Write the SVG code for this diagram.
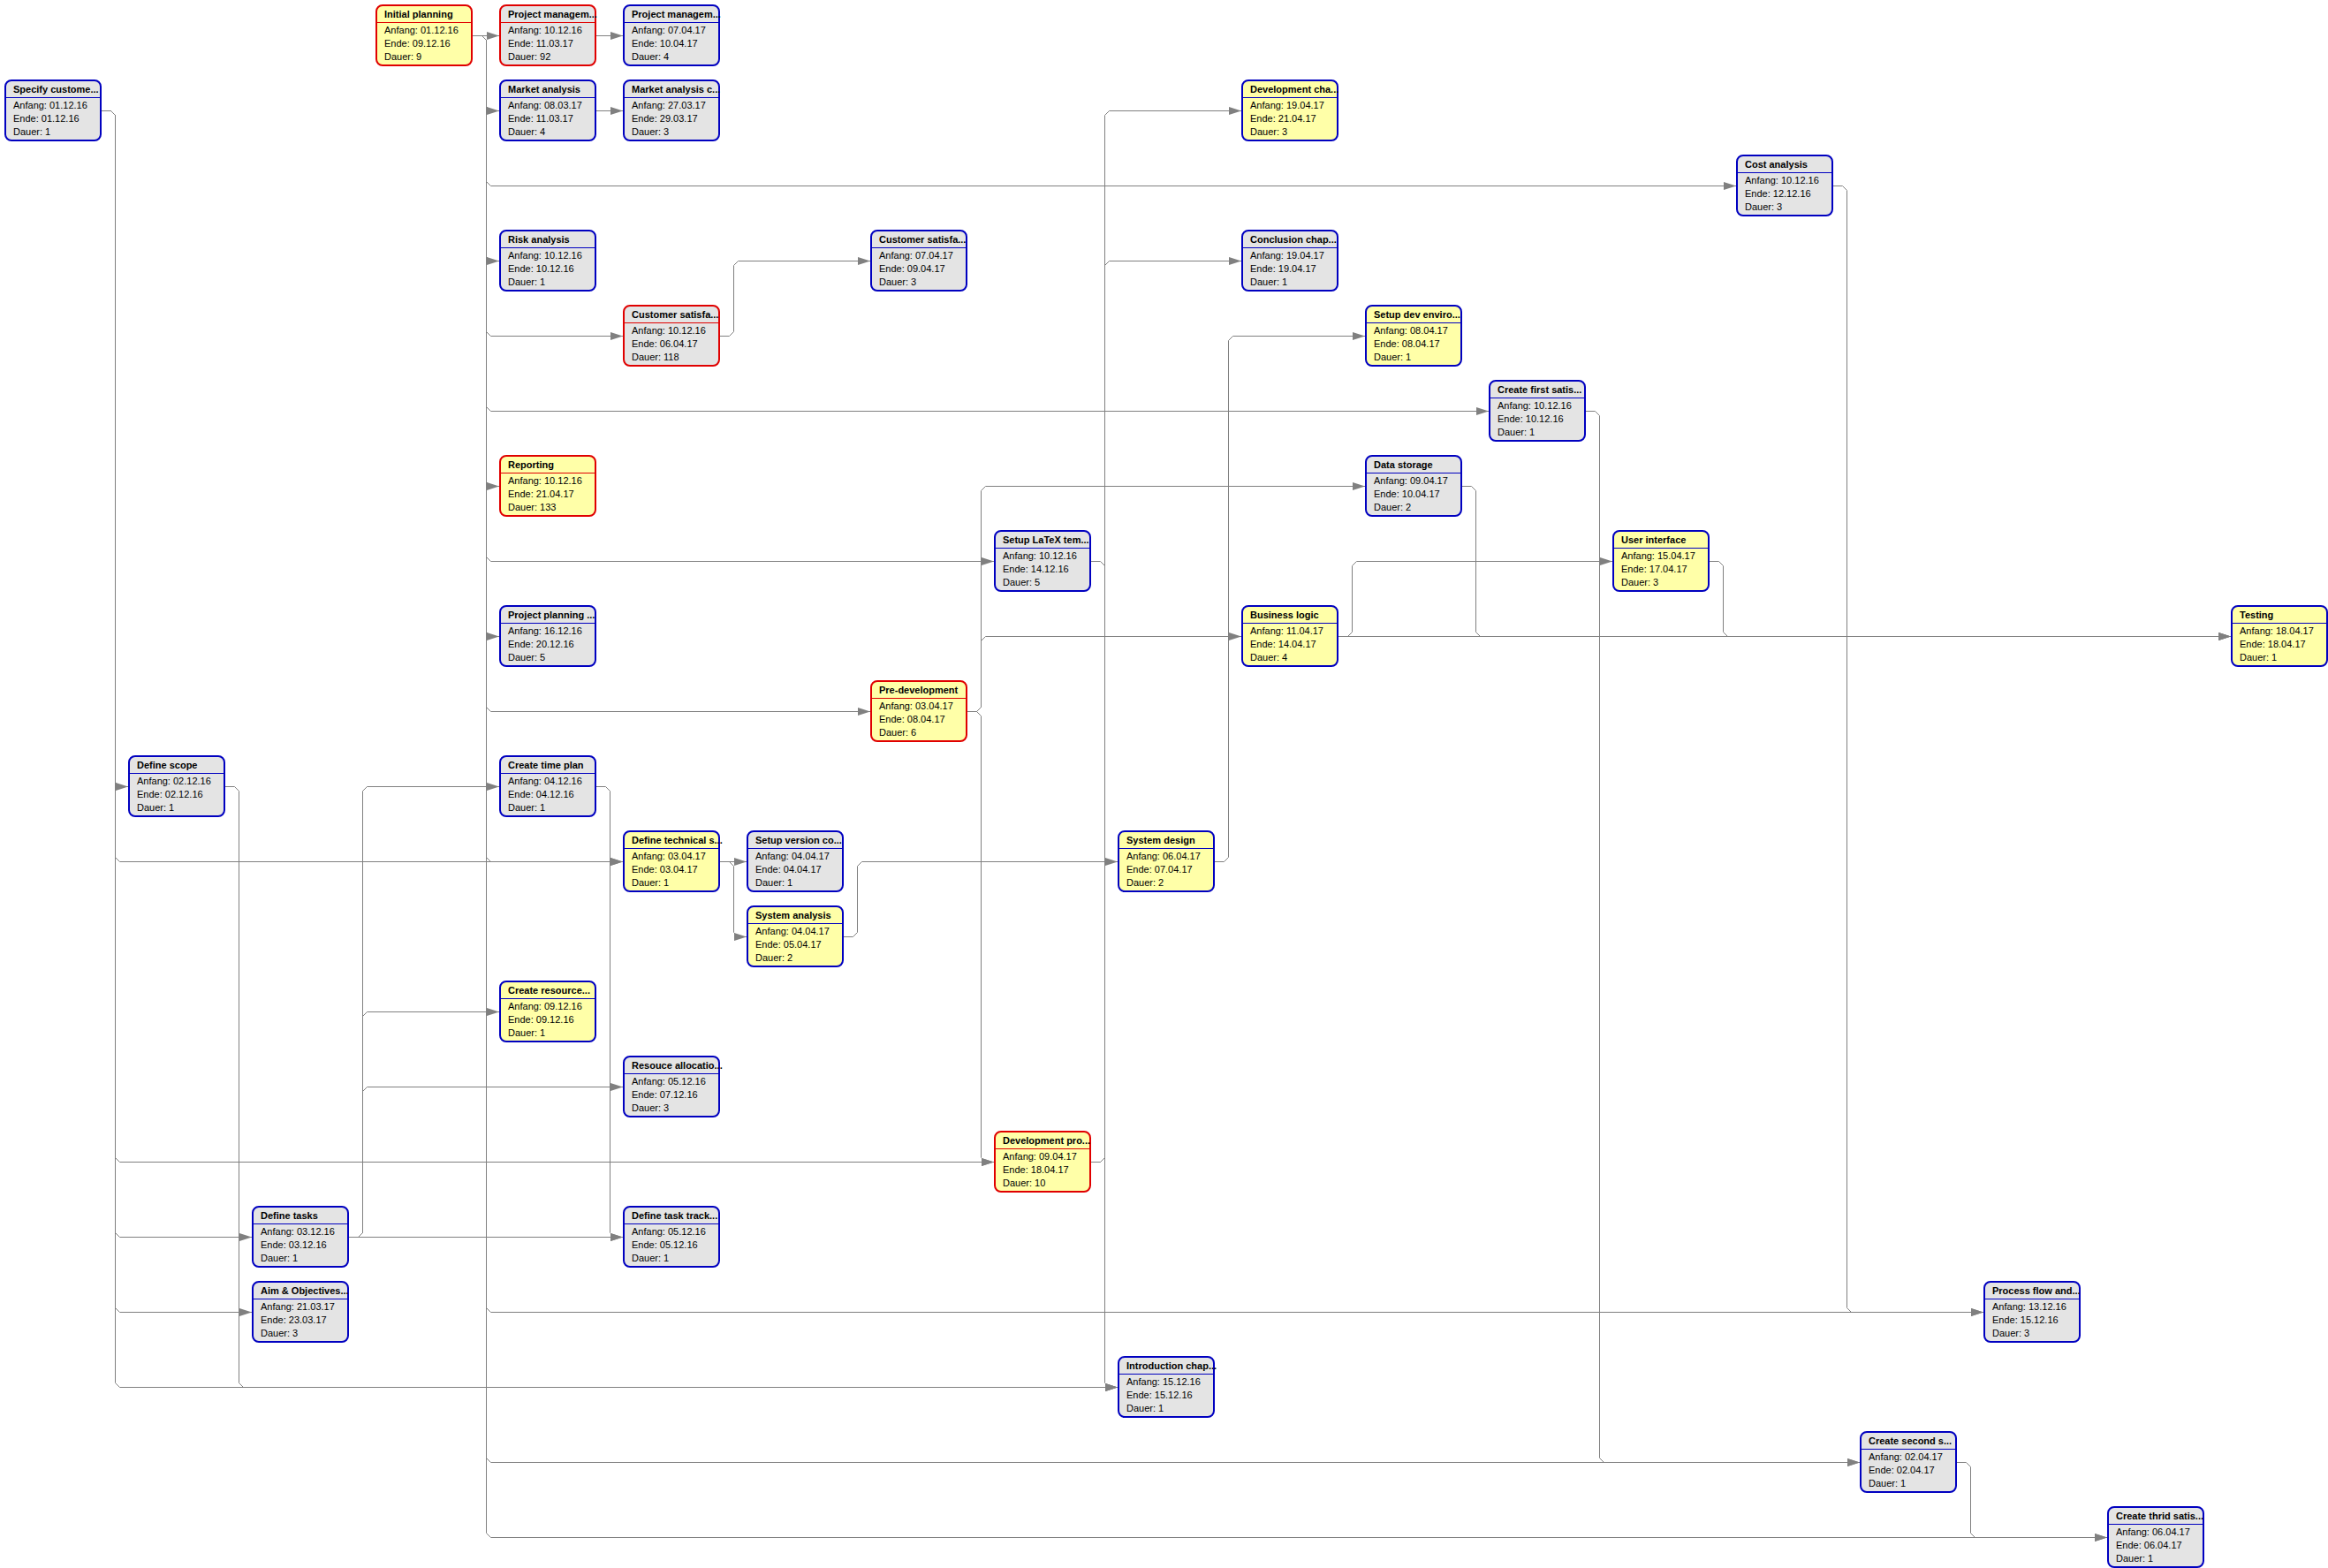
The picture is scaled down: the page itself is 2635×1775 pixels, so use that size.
<svg xmlns="http://www.w3.org/2000/svg" width="2635" height="1775" viewBox="0 0 2635 1775">
<style>
.bg{fill:#ffffff}
.conn path{fill:none;stroke:#808080;stroke-width:1;marker-end:url(#arr)}
.node rect{stroke-width:2}
.node line{stroke-width:1}
.blue rect,.blue line{stroke:#0000c0}
.red rect,.red line{stroke:#e00000}
.grey rect{fill:#e4e4e4}
.yel rect{fill:#ffffa8}
.node text{font-family:"Liberation Sans",Arial,sans-serif;font-size:11px;fill:#000000}
.node text.t{font-weight:bold}
</style>
<defs>
<marker id="arr" markerUnits="userSpaceOnUse" markerWidth="14" markerHeight="10" refX="14" refY="5" orient="auto">
<path d="M0,0.5 L14,5 L0,9.5 z" fill="#808080"/>
</marker>
</defs>
<rect class="bg" x="0" y="0" width="2635" height="1775"/>
<g id="connectors" class="conn">
<!-- Initial planning -->
<path d="M535,40.5 H565"/>
<path d="M535,40.5 H545.5 L550.5,45.5 V120.5 L555.5,125.5 H565"/>
<path d="M535,40.5 H545.5 L550.5,45.5 V205.5 L555.5,210.5 H1965"/>
<path d="M535,40.5 H545.5 L550.5,45.5 V290.5 L555.5,295.5 H565"/>
<path d="M535,40.5 H545.5 L550.5,45.5 V375.5 L555.5,380.5 H705"/>
<path d="M535,40.5 H545.5 L550.5,45.5 V460.5 L555.5,465.5 H1685"/>
<path d="M535,40.5 H545.5 L550.5,45.5 V545.5 L555.5,550.5 H565"/>
<path d="M535,40.5 H545.5 L550.5,45.5 V630.5 L555.5,635.5 H1125"/>
<path d="M535,40.5 H545.5 L550.5,45.5 V715.5 L555.5,720.5 H565"/>
<path d="M535,40.5 H545.5 L550.5,45.5 V800.5 L555.5,805.5 H985"/>
<path d="M535,40.5 H545.5 L550.5,45.5 V970.5 L555.5,975.5 H705"/>
<path d="M535,40.5 H545.5 L550.5,45.5 V1480.5 L555.5,1485.5 H2245"/>
<path d="M535,40.5 H545.5 L550.5,45.5 V1650.5 L555.5,1655.5 H2105"/>
<path d="M535,40.5 H545.5 L550.5,45.5 V1735.5 L555.5,1740.5 H2385"/>
<!-- same-row -->
<path d="M675,40.5 H705"/>
<path d="M675,125.5 H705"/>
<!-- Specify customer -->
<path d="M115,125.5 H125.5 L130.5,130.5 V885.5 L135.5,890.5 H145"/>
<path d="M115,125.5 H125.5 L130.5,130.5 V970.5 L135.5,975.5 H705"/>
<path d="M115,125.5 H125.5 L130.5,130.5 V1310.5 L135.5,1315.5 H1125"/>
<path d="M115,125.5 H125.5 L130.5,130.5 V1395.5 L135.5,1400.5 H285"/>
<path d="M115,125.5 H125.5 L130.5,130.5 V1480.5 L135.5,1485.5 H285"/>
<path d="M115,125.5 H125.5 L130.5,130.5 V1565.5 L135.5,1570.5 H1265"/>
<!-- Define scope -->
<path d="M255,890.5 H265.5 L270.5,895.5 V1565.5 L275.5,1570.5 H1265"/>
<!-- Define tasks -->
<path d="M395,1400.5 H405.5 L410.5,1395.5 V895.5 L415.5,890.5 H565"/>
<path d="M395,1400.5 H405.5 L410.5,1395.5 V1150.5 L415.5,1145.5 H565"/>
<path d="M395,1400.5 H405.5 L410.5,1395.5 V1235.5 L415.5,1230.5 H705"/>
<path d="M395,1400.5 H705"/>
<!-- Create time plan -->
<path d="M675,890.5 H685.5 L690.5,895.5 V1395.5 L695.5,1400.5 H705"/>
<!-- Define technical s -->
<path d="M815,975.5 H845"/>
<path d="M815,975.5 H825.5 L830.5,980.5 V1055.5 L835.5,1060.5 H845"/>
<!-- Customer satisfa 2 -->
<path d="M815,380.5 H825.5 L830.5,375.5 V300.5 L835.5,295.5 H985"/>
<!-- System analysis -->
<path d="M955,1060.5 H965.5 L970.5,1055.5 V980.5 L975.5,975.5 H1265"/>
<!-- Pre-development -->
<path d="M1095,805.5 H1105.5 L1110.5,800.5 V555.5 L1115.5,550.5 H1545"/>
<path d="M1095,805.5 H1105.5 L1110.5,800.5 V725.5 L1115.5,720.5 H1405"/>
<path d="M1095,805.5 H1105.5 L1110.5,810.5 V1310.5 L1115.5,1315.5 H1125"/>
<!-- Setup LaTeX -->
<path d="M1235,635.5 H1245.5 L1250.5,640.5 V1565.5 L1255.5,1570.5 H1265"/>
<!-- Development pro -->
<path d="M1235,1315.5 H1245.5 L1250.5,1310.5 V130.5 L1255.5,125.5 H1405"/>
<path d="M1235,1315.5 H1245.5 L1250.5,1310.5 V300.5 L1255.5,295.5 H1405"/>
<!-- System design -->
<path d="M1375,975.5 H1385.5 L1390.5,970.5 V385.5 L1395.5,380.5 H1545"/>
<!-- Business logic -->
<path d="M1515,720.5 H1525.5 L1530.5,715.5 V640.5 L1535.5,635.5 H1825"/>
<path d="M1515,720.5 H2525"/>
<!-- Data storage -->
<path d="M1655,550.5 H1665.5 L1670.5,555.5 V715.5 L1675.5,720.5 H2525"/>
<!-- User interface -->
<path d="M1935,635.5 H1945.5 L1950.5,640.5 V715.5 L1955.5,720.5 H2525"/>
<!-- Create first satis -->
<path d="M1795,465.5 H1805.5 L1810.5,470.5 V1650.5 L1815.5,1655.5 H2105"/>
<!-- Create second s -->
<path d="M2215,1655.5 H2225.5 L2230.5,1660.5 V1735.5 L2235.5,1740.5 H2385"/>
<!-- Cost analysis -->
<path d="M2075,210.5 H2085.5 L2090.5,215.5 V1480.5 L2095.5,1485.5 H2245"/>
</g>

<g id="n-initial-planning" class="node red yel" transform="translate(425,5)"><rect x="1" y="1" width="108" height="68" rx="7"/><line x1="1" y1="20.5" x2="109" y2="20.5"/><text class="t" x="10" y="14.5">Initial planning</text><text x="10" y="33">Anfang: 01.12.16</text><text x="10" y="47.5">Ende: 09.12.16</text><text x="10" y="62.5">Dauer: 9</text></g>
<g id="n-project-management-1" class="node red grey" transform="translate(565,5)"><rect x="1" y="1" width="108" height="68" rx="7"/><line x1="1" y1="20.5" x2="109" y2="20.5"/><text class="t" x="10" y="14.5">Project managem...</text><text x="10" y="33">Anfang: 10.12.16</text><text x="10" y="47.5">Ende: 11.03.17</text><text x="10" y="62.5">Dauer: 92</text></g>
<g id="n-project-management-2" class="node blue grey" transform="translate(705,5)"><rect x="1" y="1" width="108" height="68" rx="7"/><line x1="1" y1="20.5" x2="109" y2="20.5"/><text class="t" x="10" y="14.5">Project managem...</text><text x="10" y="33">Anfang: 07.04.17</text><text x="10" y="47.5">Ende: 10.04.17</text><text x="10" y="62.5">Dauer: 4</text></g>
<g id="n-specify-customer" class="node blue grey" transform="translate(5,90)"><rect x="1" y="1" width="108" height="68" rx="7"/><line x1="1" y1="20.5" x2="109" y2="20.5"/><text class="t" x="10" y="14.5">Specify custome...</text><text x="10" y="33">Anfang: 01.12.16</text><text x="10" y="47.5">Ende: 01.12.16</text><text x="10" y="62.5">Dauer: 1</text></g>
<g id="n-market-analysis" class="node blue grey" transform="translate(565,90)"><rect x="1" y="1" width="108" height="68" rx="7"/><line x1="1" y1="20.5" x2="109" y2="20.5"/><text class="t" x="10" y="14.5">Market analysis</text><text x="10" y="33">Anfang: 08.03.17</text><text x="10" y="47.5">Ende: 11.03.17</text><text x="10" y="62.5">Dauer: 4</text></g>
<g id="n-market-analysis-c" class="node blue grey" transform="translate(705,90)"><rect x="1" y="1" width="108" height="68" rx="7"/><line x1="1" y1="20.5" x2="109" y2="20.5"/><text class="t" x="10" y="14.5">Market analysis c...</text><text x="10" y="33">Anfang: 27.03.17</text><text x="10" y="47.5">Ende: 29.03.17</text><text x="10" y="62.5">Dauer: 3</text></g>
<g id="n-development-cha" class="node blue yel" transform="translate(1405,90)"><rect x="1" y="1" width="108" height="68" rx="7"/><line x1="1" y1="20.5" x2="109" y2="20.5"/><text class="t" x="10" y="14.5">Development cha...</text><text x="10" y="33">Anfang: 19.04.17</text><text x="10" y="47.5">Ende: 21.04.17</text><text x="10" y="62.5">Dauer: 3</text></g>
<g id="n-cost-analysis" class="node blue grey" transform="translate(1965,175)"><rect x="1" y="1" width="108" height="68" rx="7"/><line x1="1" y1="20.5" x2="109" y2="20.5"/><text class="t" x="10" y="14.5">Cost analysis</text><text x="10" y="33">Anfang: 10.12.16</text><text x="10" y="47.5">Ende: 12.12.16</text><text x="10" y="62.5">Dauer: 3</text></g>
<g id="n-risk-analysis" class="node blue grey" transform="translate(565,260)"><rect x="1" y="1" width="108" height="68" rx="7"/><line x1="1" y1="20.5" x2="109" y2="20.5"/><text class="t" x="10" y="14.5">Risk analysis</text><text x="10" y="33">Anfang: 10.12.16</text><text x="10" y="47.5">Ende: 10.12.16</text><text x="10" y="62.5">Dauer: 1</text></g>
<g id="n-customer-satisfa-1" class="node blue grey" transform="translate(985,260)"><rect x="1" y="1" width="108" height="68" rx="7"/><line x1="1" y1="20.5" x2="109" y2="20.5"/><text class="t" x="10" y="14.5">Customer satisfa...</text><text x="10" y="33">Anfang: 07.04.17</text><text x="10" y="47.5">Ende: 09.04.17</text><text x="10" y="62.5">Dauer: 3</text></g>
<g id="n-conclusion-chap" class="node blue grey" transform="translate(1405,260)"><rect x="1" y="1" width="108" height="68" rx="7"/><line x1="1" y1="20.5" x2="109" y2="20.5"/><text class="t" x="10" y="14.5">Conclusion chap...</text><text x="10" y="33">Anfang: 19.04.17</text><text x="10" y="47.5">Ende: 19.04.17</text><text x="10" y="62.5">Dauer: 1</text></g>
<g id="n-customer-satisfa-2" class="node red grey" transform="translate(705,345)"><rect x="1" y="1" width="108" height="68" rx="7"/><line x1="1" y1="20.5" x2="109" y2="20.5"/><text class="t" x="10" y="14.5">Customer satisfa...</text><text x="10" y="33">Anfang: 10.12.16</text><text x="10" y="47.5">Ende: 06.04.17</text><text x="10" y="62.5">Dauer: 118</text></g>
<g id="n-setup-dev-enviro" class="node blue yel" transform="translate(1545,345)"><rect x="1" y="1" width="108" height="68" rx="7"/><line x1="1" y1="20.5" x2="109" y2="20.5"/><text class="t" x="10" y="14.5">Setup dev enviro...</text><text x="10" y="33">Anfang: 08.04.17</text><text x="10" y="47.5">Ende: 08.04.17</text><text x="10" y="62.5">Dauer: 1</text></g>
<g id="n-create-first-satis" class="node blue grey" transform="translate(1685,430)"><rect x="1" y="1" width="108" height="68" rx="7"/><line x1="1" y1="20.5" x2="109" y2="20.5"/><text class="t" x="10" y="14.5">Create first satis...</text><text x="10" y="33">Anfang: 10.12.16</text><text x="10" y="47.5">Ende: 10.12.16</text><text x="10" y="62.5">Dauer: 1</text></g>
<g id="n-reporting" class="node red yel" transform="translate(565,515)"><rect x="1" y="1" width="108" height="68" rx="7"/><line x1="1" y1="20.5" x2="109" y2="20.5"/><text class="t" x="10" y="14.5">Reporting</text><text x="10" y="33">Anfang: 10.12.16</text><text x="10" y="47.5">Ende: 21.04.17</text><text x="10" y="62.5">Dauer: 133</text></g>
<g id="n-data-storage" class="node blue grey" transform="translate(1545,515)"><rect x="1" y="1" width="108" height="68" rx="7"/><line x1="1" y1="20.5" x2="109" y2="20.5"/><text class="t" x="10" y="14.5">Data storage</text><text x="10" y="33">Anfang: 09.04.17</text><text x="10" y="47.5">Ende: 10.04.17</text><text x="10" y="62.5">Dauer: 2</text></g>
<g id="n-setup-latex" class="node blue grey" transform="translate(1125,600)"><rect x="1" y="1" width="108" height="68" rx="7"/><line x1="1" y1="20.5" x2="109" y2="20.5"/><text class="t" x="10" y="14.5">Setup LaTeX tem...</text><text x="10" y="33">Anfang: 10.12.16</text><text x="10" y="47.5">Ende: 14.12.16</text><text x="10" y="62.5">Dauer: 5</text></g>
<g id="n-user-interface" class="node blue yel" transform="translate(1825,600)"><rect x="1" y="1" width="108" height="68" rx="7"/><line x1="1" y1="20.5" x2="109" y2="20.5"/><text class="t" x="10" y="14.5">User interface</text><text x="10" y="33">Anfang: 15.04.17</text><text x="10" y="47.5">Ende: 17.04.17</text><text x="10" y="62.5">Dauer: 3</text></g>
<g id="n-project-planning" class="node blue grey" transform="translate(565,685)"><rect x="1" y="1" width="108" height="68" rx="7"/><line x1="1" y1="20.5" x2="109" y2="20.5"/><text class="t" x="10" y="14.5">Project planning ...</text><text x="10" y="33">Anfang: 16.12.16</text><text x="10" y="47.5">Ende: 20.12.16</text><text x="10" y="62.5">Dauer: 5</text></g>
<g id="n-business-logic" class="node blue yel" transform="translate(1405,685)"><rect x="1" y="1" width="108" height="68" rx="7"/><line x1="1" y1="20.5" x2="109" y2="20.5"/><text class="t" x="10" y="14.5">Business logic</text><text x="10" y="33">Anfang: 11.04.17</text><text x="10" y="47.5">Ende: 14.04.17</text><text x="10" y="62.5">Dauer: 4</text></g>
<g id="n-testing" class="node blue yel" transform="translate(2525,685)"><rect x="1" y="1" width="108" height="68" rx="7"/><line x1="1" y1="20.5" x2="109" y2="20.5"/><text class="t" x="10" y="14.5">Testing</text><text x="10" y="33">Anfang: 18.04.17</text><text x="10" y="47.5">Ende: 18.04.17</text><text x="10" y="62.5">Dauer: 1</text></g>
<g id="n-pre-development" class="node red yel" transform="translate(985,770)"><rect x="1" y="1" width="108" height="68" rx="7"/><line x1="1" y1="20.5" x2="109" y2="20.5"/><text class="t" x="10" y="14.5">Pre-development</text><text x="10" y="33">Anfang: 03.04.17</text><text x="10" y="47.5">Ende: 08.04.17</text><text x="10" y="62.5">Dauer: 6</text></g>
<g id="n-define-scope" class="node blue grey" transform="translate(145,855)"><rect x="1" y="1" width="108" height="68" rx="7"/><line x1="1" y1="20.5" x2="109" y2="20.5"/><text class="t" x="10" y="14.5">Define scope</text><text x="10" y="33">Anfang: 02.12.16</text><text x="10" y="47.5">Ende: 02.12.16</text><text x="10" y="62.5">Dauer: 1</text></g>
<g id="n-create-time-plan" class="node blue grey" transform="translate(565,855)"><rect x="1" y="1" width="108" height="68" rx="7"/><line x1="1" y1="20.5" x2="109" y2="20.5"/><text class="t" x="10" y="14.5">Create time plan</text><text x="10" y="33">Anfang: 04.12.16</text><text x="10" y="47.5">Ende: 04.12.16</text><text x="10" y="62.5">Dauer: 1</text></g>
<g id="n-define-technical" class="node blue yel" transform="translate(705,940)"><rect x="1" y="1" width="108" height="68" rx="7"/><line x1="1" y1="20.5" x2="109" y2="20.5"/><text class="t" x="10" y="14.5">Define technical s...</text><text x="10" y="33">Anfang: 03.04.17</text><text x="10" y="47.5">Ende: 03.04.17</text><text x="10" y="62.5">Dauer: 1</text></g>
<g id="n-setup-version" class="node blue grey" transform="translate(845,940)"><rect x="1" y="1" width="108" height="68" rx="7"/><line x1="1" y1="20.5" x2="109" y2="20.5"/><text class="t" x="10" y="14.5">Setup version co...</text><text x="10" y="33">Anfang: 04.04.17</text><text x="10" y="47.5">Ende: 04.04.17</text><text x="10" y="62.5">Dauer: 1</text></g>
<g id="n-system-design" class="node blue yel" transform="translate(1265,940)"><rect x="1" y="1" width="108" height="68" rx="7"/><line x1="1" y1="20.5" x2="109" y2="20.5"/><text class="t" x="10" y="14.5">System design</text><text x="10" y="33">Anfang: 06.04.17</text><text x="10" y="47.5">Ende: 07.04.17</text><text x="10" y="62.5">Dauer: 2</text></g>
<g id="n-system-analysis" class="node blue yel" transform="translate(845,1025)"><rect x="1" y="1" width="108" height="68" rx="7"/><line x1="1" y1="20.5" x2="109" y2="20.5"/><text class="t" x="10" y="14.5">System analysis</text><text x="10" y="33">Anfang: 04.04.17</text><text x="10" y="47.5">Ende: 05.04.17</text><text x="10" y="62.5">Dauer: 2</text></g>
<g id="n-create-resource" class="node blue yel" transform="translate(565,1110)"><rect x="1" y="1" width="108" height="68" rx="7"/><line x1="1" y1="20.5" x2="109" y2="20.5"/><text class="t" x="10" y="14.5">Create resource...</text><text x="10" y="33">Anfang: 09.12.16</text><text x="10" y="47.5">Ende: 09.12.16</text><text x="10" y="62.5">Dauer: 1</text></g>
<g id="n-resouce-allocation" class="node blue grey" transform="translate(705,1195)"><rect x="1" y="1" width="108" height="68" rx="7"/><line x1="1" y1="20.5" x2="109" y2="20.5"/><text class="t" x="10" y="14.5">Resouce allocatio...</text><text x="10" y="33">Anfang: 05.12.16</text><text x="10" y="47.5">Ende: 07.12.16</text><text x="10" y="62.5">Dauer: 3</text></g>
<g id="n-development-pro" class="node red yel" transform="translate(1125,1280)"><rect x="1" y="1" width="108" height="68" rx="7"/><line x1="1" y1="20.5" x2="109" y2="20.5"/><text class="t" x="10" y="14.5">Development pro...</text><text x="10" y="33">Anfang: 09.04.17</text><text x="10" y="47.5">Ende: 18.04.17</text><text x="10" y="62.5">Dauer: 10</text></g>
<g id="n-define-tasks" class="node blue grey" transform="translate(285,1365)"><rect x="1" y="1" width="108" height="68" rx="7"/><line x1="1" y1="20.5" x2="109" y2="20.5"/><text class="t" x="10" y="14.5">Define tasks</text><text x="10" y="33">Anfang: 03.12.16</text><text x="10" y="47.5">Ende: 03.12.16</text><text x="10" y="62.5">Dauer: 1</text></g>
<g id="n-define-task-track" class="node blue grey" transform="translate(705,1365)"><rect x="1" y="1" width="108" height="68" rx="7"/><line x1="1" y1="20.5" x2="109" y2="20.5"/><text class="t" x="10" y="14.5">Define task track...</text><text x="10" y="33">Anfang: 05.12.16</text><text x="10" y="47.5">Ende: 05.12.16</text><text x="10" y="62.5">Dauer: 1</text></g>
<g id="n-aim-objectives" class="node blue grey" transform="translate(285,1450)"><rect x="1" y="1" width="108" height="68" rx="7"/><line x1="1" y1="20.5" x2="109" y2="20.5"/><text class="t" x="10" y="14.5">Aim &amp; Objectives...</text><text x="10" y="33">Anfang: 21.03.17</text><text x="10" y="47.5">Ende: 23.03.17</text><text x="10" y="62.5">Dauer: 3</text></g>
<g id="n-process-flow" class="node blue grey" transform="translate(2245,1450)"><rect x="1" y="1" width="108" height="68" rx="7"/><line x1="1" y1="20.5" x2="109" y2="20.5"/><text class="t" x="10" y="14.5">Process flow and...</text><text x="10" y="33">Anfang: 13.12.16</text><text x="10" y="47.5">Ende: 15.12.16</text><text x="10" y="62.5">Dauer: 3</text></g>
<g id="n-introduction-chap" class="node blue grey" transform="translate(1265,1535)"><rect x="1" y="1" width="108" height="68" rx="7"/><line x1="1" y1="20.5" x2="109" y2="20.5"/><text class="t" x="10" y="14.5">Introduction chap...</text><text x="10" y="33">Anfang: 15.12.16</text><text x="10" y="47.5">Ende: 15.12.16</text><text x="10" y="62.5">Dauer: 1</text></g>
<g id="n-create-second" class="node blue grey" transform="translate(2105,1620)"><rect x="1" y="1" width="108" height="68" rx="7"/><line x1="1" y1="20.5" x2="109" y2="20.5"/><text class="t" x="10" y="14.5">Create second s...</text><text x="10" y="33">Anfang: 02.04.17</text><text x="10" y="47.5">Ende: 02.04.17</text><text x="10" y="62.5">Dauer: 1</text></g>
<g id="n-create-thrid" class="node blue grey" transform="translate(2385,1705)"><rect x="1" y="1" width="108" height="68" rx="7"/><line x1="1" y1="20.5" x2="109" y2="20.5"/><text class="t" x="10" y="14.5">Create thrid satis...</text><text x="10" y="33">Anfang: 06.04.17</text><text x="10" y="47.5">Ende: 06.04.17</text><text x="10" y="62.5">Dauer: 1</text></g>
</svg>
